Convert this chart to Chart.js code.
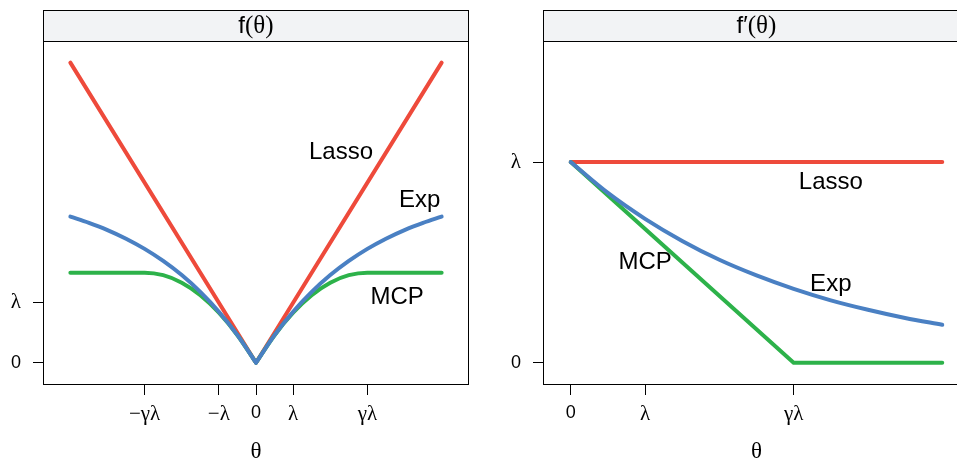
<!DOCTYPE html>
<html>
<head>
<meta charset="utf-8">
<script src="https://cdn.jsdelivr.net/npm/chart.js@4/dist/chart.umd.min.js"></script>
<style>
  html, body { margin: 0; padding: 0; background: #fff; overflow: hidden; width: 957px; height: 462px; }
  #leftWrap { position: absolute; left: 0; top: 0; width: 480px; height: 462px; }
  #rightWrap { position: absolute; left: 480px; top: 0; width: 500px; height: 462px; }
</style>
</head>
<body>
<div id="leftWrap"><canvas id="penaltyChart" width="480" height="462"></canvas></div>
<div id="rightWrap"><canvas id="derivChart" width="500" height="462"></canvas></div>
<script>
// theta in units of lambda (lambda = 1, gamma = 3)
const thetaFull = [-5, -4.5, -4, -3.5, -3, -2.5, -2, -1.5, -1, -0.5, 0, 0.5, 1, 1.5, 2, 2.5, 3, 3.5, 4, 4.5, 5];
const lassoTheta = [-5, 0, 5];
const lassoF = [5, 0, 5];
const expF = [2.434, 2.330, 2.210, 2.066, 1.896, 1.696, 1.460, 1.180, 0.850, 0.460, 0, 0.460, 0.850, 1.180, 1.460, 1.696, 1.896, 2.066, 2.210, 2.330, 2.434];
const mcpF = [1.5, 1.5, 1.5, 1.5, 1.5, 1.458, 1.333, 1.125, 0.833, 0.458, 0, 0.458, 0.833, 1.125, 1.333, 1.458, 1.5, 1.5, 1.5, 1.5, 1.5];

const thetaHalf = [0, 0.5, 1, 1.5, 2, 2.5, 3, 3.5, 4, 4.5, 5];
const expD = [1, 0.846, 0.717, 0.607, 0.513, 0.435, 0.368, 0.311, 0.264, 0.223, 0.189];
const lassoDTheta = [0, 5];
const lassoD = [1, 1];
const mcpDTheta = [0, 3, 5];
const mcpD = [1, 0, 0];

const leftXTicks = [-3, -1, 0, 1, 3];
const leftXLabels = ["\u2212\u03b3\u03bb", "\u2212\u03bb", "0", "\u03bb", "\u03b3\u03bb"];
const rightXTicks = [0, 1, 3];
const rightXLabels = ["0", "\u03bb", "\u03b3\u03bb"];
const yTicks = [0, 1];
const yLabels = ["0", "\u03bb"];

const RED = "#ee4a3b";
const GREEN = "#2db24a";
const BLUE = "#4a80c3";
const SANS = "'Liberation Sans', Arial, sans-serif";
const SERIF = "'Liberation Serif', 'Times New Roman', serif";

function pts(xs, ys) {
  return xs.map((x, i) => ({ x: x, y: ys[i] }));
}

function line(data, color, smooth) {
  return {
    data: data,
    borderColor: color,
    borderWidth: 4,
    borderCapStyle: "round",
    borderJoinStyle: "round",
    pointRadius: 0,
    fill: false,
    showLine: true,
    tension: 0,
    cubicInterpolationMode: smooth ? "monotone" : "default",
  };
}

// header strip, frame, curve labels and axis title
const panelFrame = {
  id: "panelFrame",
  afterDraw(chart, args, opts) {
    const { ctx, chartArea: a } = chart;
    ctx.save();
    ctx.fillStyle = "#f2f3f5";
    ctx.fillRect(a.left, 10, a.right - a.left, a.top - 10);
    ctx.strokeStyle = "#000";
    ctx.lineWidth = 1;
    ctx.strokeRect(a.left - 0.5, 10.5, a.right - a.left + 1, a.top - 10);
    ctx.strokeRect(a.left - 0.5, a.top + 0.5, a.right - a.left + 1, a.bottom - a.top);

    // header text: sans "f", serif "(θ)"
    ctx.textBaseline = "middle";
    ctx.textAlign = "left";
    ctx.font = "24px " + SANS;
    const w1 = ctx.measureText(opts.head).width;
    ctx.font = "25px " + SERIF;
    const w2 = ctx.measureText("(\u03b8)").width;
    let hx = (a.left + a.right) / 2 - (w1 + w2) / 2;
    ctx.fillStyle = "#000";
    ctx.font = "24px " + SANS;
    ctx.fillText(opts.head, hx, 26);
    ctx.font = "25px " + SERIF;
    ctx.fillText("(\u03b8)", hx + w1, 26);

    // curve labels placed in data coordinates
    const xs = chart.scales.x, ys = chart.scales.y;
    ctx.textAlign = "center";
    ctx.font = "24px " + SANS;
    opts.labels.forEach((l) => {
      ctx.fillText(l.text, xs.getPixelForValue(l.x), ys.getPixelForValue(l.y));
    });

    // axis title
    ctx.font = "23px " + SERIF;
    ctx.fillText("\u03b8", (a.left + a.right) / 2, a.bottom + 68);
    ctx.restore();
  },
};

function tickFont(c) {
  const lab = c.tick && c.tick.label;
  return lab === "0" ? { family: SANS, size: 18 } : { family: SERIF, size: 21 };
}

function makeOptions(xr, yr, xTicks, xLabels, yWidth, padRight, head, labels) {
  return {
    responsive: false,
    animation: false,
    layout: { padding: { top: 41, right: padRight, left: 0, bottom: 0 } },
    plugins: {
      legend: { display: false },
      tooltip: { enabled: false },
      panelFrame: { head: head, labels: labels },
    },
    scales: {
      x: {
        type: "linear",
        min: xr[0],
        max: xr[1],
        afterBuildTicks: (s) => { s.ticks = xTicks.map((v) => ({ value: v })); },
        afterFit: (s) => { s.height = 78; },
        border: { display: false },
        grid: { drawOnChartArea: false, drawTicks: true, tickLength: 11, color: "#000", tickColor: "#000" },
        ticks: {
          autoSkip: false,
          maxRotation: 0,
          padding: 7,
          color: "#000",
          font: tickFont,
          callback: (v) => xLabels[xTicks.indexOf(v)],
        },
      },
      y: {
        type: "linear",
        min: yr[0],
        max: yr[1],
        afterBuildTicks: (s) => { s.ticks = yTicks.map((v) => ({ value: v })); },
        afterFit: (s) => { s.width = yWidth; },
        border: { display: false },
        grid: { drawOnChartArea: false, drawTicks: true, tickLength: 11, color: "#000", tickColor: "#000" },
        ticks: {
          autoSkip: false,
          padding: 12,
          color: "#000",
          font: tickFont,
          callback: (v) => yLabels[yTicks.indexOf(v)],
        },
      },
    },
  };
}

document.addEventListener("DOMContentLoaded", () => {
  const zero = thetaFull.indexOf(0);
  const expPts = pts(thetaFull, expF);
  const mcpPts = pts(thetaFull, mcpF);

  new Chart(document.getElementById("penaltyChart"), {
    type: "scatter",
    data: {
      datasets: [
        line(expPts.slice(0, zero + 1), BLUE, true),
        line(expPts.slice(zero), BLUE, true),
        line(mcpPts.slice(0, zero + 1), GREEN, true),
        line(mcpPts.slice(zero), GREEN, true),
        line(pts(lassoTheta, lassoF), RED, false),
      ],
    },
    options: makeOptions([-5.71, 5.71], [-0.355, 5.36], leftXTicks, leftXLabels, 44, 12, "f", [
      { text: "Lasso", x: 2.29, y: 3.5 },
      { text: "Exp", x: 4.41, y: 2.7 },
      { text: "MCP", x: 3.8, y: 1.09 },
    ]),
    plugins: [panelFrame],
  });

  new Chart(document.getElementById("derivChart"), {
    type: "scatter",
    data: {
      datasets: [
        line(pts(thetaHalf, expD), BLUE, true),
        line(pts(mcpDTheta, mcpD), GREEN, false),
        line(pts(lassoDTheta, lassoD), RED, false),
      ],
    },
    options: makeOptions([-0.36, 5.36], [-0.106, 1.603], rightXTicks, rightXLabels, 64, 11, "f\u2032", [
      { text: "Lasso", x: 3.5, y: 0.9 },
      { text: "Exp", x: 3.5, y: 0.39 },
      { text: "MCP", x: 1.0, y: 0.5 },
    ]),
    plugins: [panelFrame],
  });
});
</script>
</body>
</html>
